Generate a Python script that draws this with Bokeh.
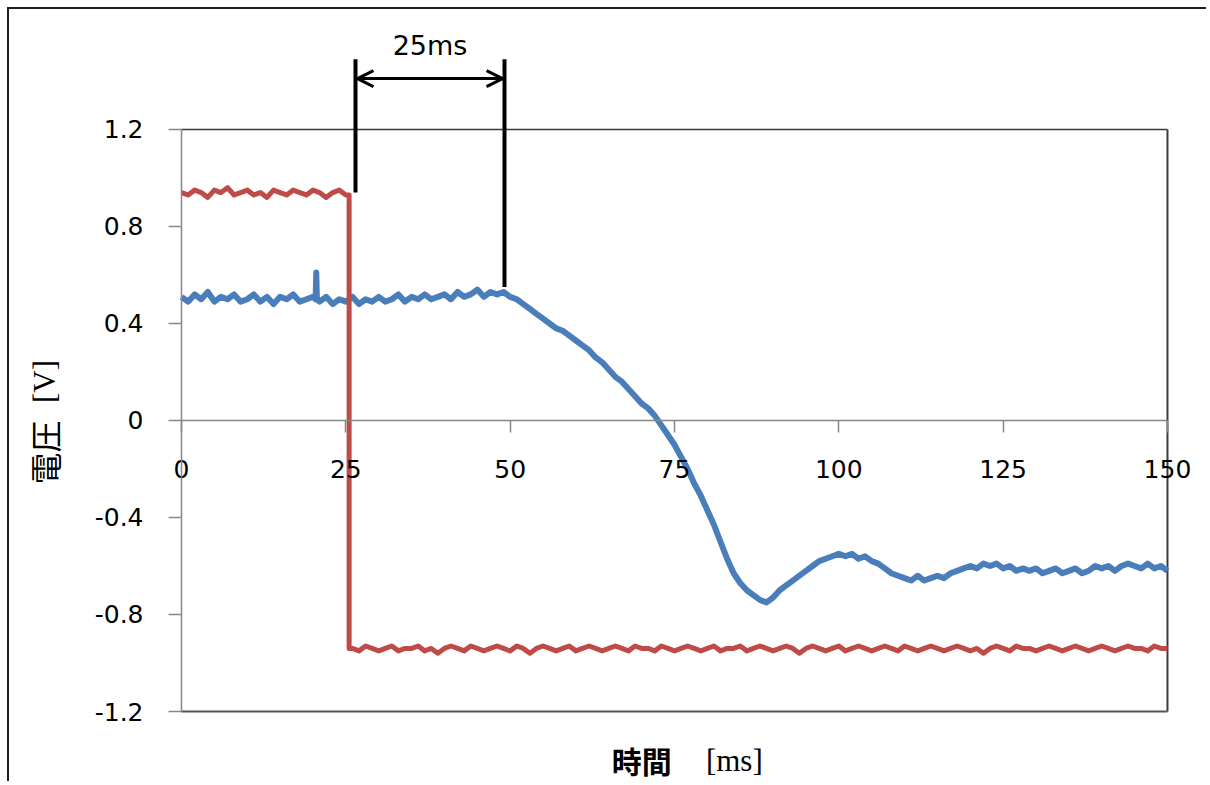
from math import pi
from bokeh.plotting import figure
from bokeh.models import Range1d, LinearAxis, FixedTicker, Label, Arrow, OpenHead
from bokeh.embed import file_html
from bokeh.resources import INLINE

# ---------------- data ----------------
time_blue = list(range(0, 21)) + [20.4, 20.5, 20.6] + list(range(21, 151))
volt_blue = [
    0.51, 0.49, 0.52, 0.50, 0.53, 0.49, 0.51, 0.50, 0.52, 0.49,
    0.50, 0.52, 0.49, 0.51, 0.48, 0.51, 0.50, 0.52, 0.49, 0.50,
    0.51, 0.50, 0.61, 0.50,
    0.49, 0.51, 0.48, 0.50, 0.49, 0.51, 0.48, 0.50, 0.49,
    0.51, 0.49, 0.50, 0.52, 0.49, 0.51, 0.50, 0.52, 0.50, 0.51,
    0.52, 0.50, 0.53, 0.51, 0.52, 0.54, 0.51, 0.53, 0.52, 0.53,
    0.51, 0.50, 0.48, 0.46, 0.44, 0.42, 0.40, 0.38, 0.37, 0.35,
    0.33, 0.31, 0.29, 0.26, 0.24, 0.21, 0.18, 0.16, 0.13, 0.10,
    0.07, 0.05, 0.02, -0.02, -0.06, -0.10, -0.15, -0.20, -0.26, -0.31,
    -0.37, -0.43, -0.50, -0.57, -0.63, -0.67, -0.70, -0.72, -0.74, -0.75,
    -0.73, -0.70, -0.68, -0.66, -0.64, -0.62, -0.60, -0.58, -0.57, -0.56,
    -0.55, -0.56, -0.55, -0.57, -0.56, -0.58, -0.59, -0.61, -0.63, -0.64,
    -0.65, -0.66, -0.64, -0.66, -0.65, -0.64, -0.65, -0.63, -0.62, -0.61,
    -0.60, -0.61, -0.59, -0.60, -0.59, -0.61, -0.60, -0.62, -0.61, -0.62,
    -0.61, -0.63, -0.62, -0.61, -0.63, -0.62, -0.61, -0.63, -0.62, -0.60,
    -0.61, -0.60, -0.62, -0.60, -0.59, -0.60, -0.61, -0.59, -0.61, -0.60, -0.62,
]

time_red = list(range(0, 26)) + [25.5, 25.5] + list(range(26, 151))
volt_red = [
    0.94, 0.93, 0.95, 0.94, 0.92, 0.95, 0.94, 0.96, 0.93, 0.94,
    0.95, 0.93, 0.94, 0.92, 0.95, 0.94, 0.93, 0.95, 0.94, 0.93,
    0.95, 0.94, 0.92, 0.94, 0.95, 0.93,
    0.93, -0.94,
    -0.94, -0.95, -0.93, -0.94, -0.95, -0.94, -0.93, -0.95, -0.94, -0.94,
    -0.93, -0.95, -0.94, -0.96, -0.94, -0.93, -0.94, -0.95, -0.93, -0.94,
    -0.95, -0.94, -0.93, -0.94, -0.95, -0.93, -0.94, -0.96, -0.94, -0.93,
    -0.94, -0.95, -0.94, -0.93, -0.95, -0.94, -0.93, -0.94, -0.95, -0.94,
    -0.93, -0.94, -0.95, -0.93, -0.94, -0.94, -0.95, -0.93, -0.94, -0.95,
    -0.94, -0.93, -0.94, -0.95, -0.94, -0.93, -0.95, -0.94, -0.94, -0.93,
    -0.95, -0.94, -0.93, -0.94, -0.95, -0.94, -0.93, -0.94, -0.96, -0.94,
    -0.93, -0.94, -0.95, -0.94, -0.93, -0.95, -0.94, -0.93, -0.94, -0.95,
    -0.94, -0.93, -0.94, -0.95, -0.93, -0.94, -0.95, -0.94, -0.93, -0.94,
    -0.95, -0.94, -0.93, -0.94, -0.95, -0.94, -0.96, -0.94, -0.93, -0.94,
    -0.95, -0.93, -0.94, -0.94, -0.95, -0.94, -0.93, -0.94, -0.95, -0.94,
    -0.93, -0.94, -0.95, -0.94, -0.93, -0.94, -0.95, -0.94, -0.93, -0.94,
    -0.94, -0.95, -0.93, -0.94, -0.94,
]

x_ticks = [0, 25, 50, 75, 100, 125, 150]
y_ticks = [-1.2, -0.8, -0.4, 0, 0.4, 0.8, 1.2]
y_tick_labels = ["-1.2", "-0.8", "-0.4", "0", "0.4", "0.8", "1.2"]

marker_times = [26.47, 49.14]      # interval markers [ms]
marker_bottoms = [0.94, 0.55]      # where each marker ends [V]
marker_top = 1.49
arrow_level = 1.41
interval_text = "25ms"

x_label_main, x_label_unit = "時間", "[ms]"
y_label_main, y_label_unit = "電圧", "[V]"

BLUE = "#4A7EBB"
RED = "#BE4B48"
AXIS_GRAY = "#868686"

# ---------------- figure ----------------
# the frame spans the whole canvas so nothing is clipped; the visible
# plot box is drawn from the tick extremes
p = figure(
    width=1199, height=774,
    x_range=Range1d(-26.167, 156.24), y_range=Range1d(-1.4969, 1.6948),
    output_backend="svg", toolbar_location=None,
    x_axis_location=None, y_axis_location=None,
    min_border=0, min_border_left=0, min_border_right=0,
    min_border_top=0, min_border_bottom=0,
)
p.outline_line_color = None
p.grid.grid_line_color = None
p.background_fill_color = "white"
p.border_fill_color = "white"
p.styles = {
    "margin-left": "7px", "margin-top": "7px",
    "border-left": "2px solid #1e1e1e", "border-top": "2px solid #1e1e1e",
}

# y axis
yaxis = LinearAxis(
    fixed_location=x_ticks[0],
    ticker=FixedTicker(ticks=y_ticks), bounds=(y_ticks[0], y_ticks[-1]),
    axis_line_color=AXIS_GRAY, axis_line_width=1.5,
    major_tick_line_color=AXIS_GRAY, major_tick_line_width=1.5,
    major_tick_out=13, major_tick_in=0, minor_tick_line_color=None,
    major_label_standoff=25,
    major_label_text_font="DejaVu Sans", major_label_text_font_size="25px",
    major_label_text_color="#000000",
    major_label_overrides=dict(zip(y_ticks, y_tick_labels)),
)
p.add_layout(yaxis, "left")

# x axis through zero, labels set well below
xaxis = LinearAxis(
    fixed_location=0, ticker=FixedTicker(ticks=x_ticks),
    bounds=(x_ticks[0], x_ticks[-1]),
    axis_line_color=AXIS_GRAY, axis_line_width=1.5,
    major_tick_line_color=AXIS_GRAY, major_tick_line_width=1.5,
    major_tick_out=12, major_tick_in=0, minor_tick_line_color=None,
    major_label_standoff=28,
    major_label_text_font="DejaVu Sans", major_label_text_font_size="25px",
    major_label_text_color="#000000",
)
p.add_layout(xaxis, "below")

# plot-area box (top, right, bottom)
p.segment(x0=[x_ticks[0]], y0=[y_ticks[-1]], x1=[x_ticks[-1]], y1=[y_ticks[-1]],
          line_color="#3a3a3a", line_width=1.5)
p.segment(x0=[x_ticks[-1]], y0=[y_ticks[0]], x1=[x_ticks[-1]], y1=[y_ticks[-1]],
          line_color="#3a3a3a", line_width=2)
p.segment(x0=[x_ticks[0]], y0=[y_ticks[0]], x1=[x_ticks[-1]], y1=[y_ticks[0]],
          line_color="#555555", line_width=2)

# series
p.line(time_blue, volt_blue, line_color=BLUE, line_width=6, line_join="round")
p.line(time_red, volt_red, line_color=RED, line_width=5, line_join="round")

# interval markers
p.segment(x0=marker_times, y0=marker_bottoms, x1=marker_times,
          y1=[marker_top] * len(marker_times), line_color="black", line_width=4)
p.add_layout(Arrow(
    start=OpenHead(size=16, line_width=3, line_color="black"),
    end=OpenHead(size=16, line_width=3, line_color="black"),
    x_start=marker_times[0] + 0.3, y_start=arrow_level,
    x_end=marker_times[1] - 0.3, y_end=arrow_level,
    line_width=3, line_color="black",
))
p.add_layout(Label(
    x=sum(marker_times) / 2, y=1.546, text=interval_text,
    text_align="center", text_baseline="middle",
    text_font="DejaVu Sans", text_font_size="27px", text_color="black",
))

# axis titles
p.add_layout(Label(x=70.0, y=-1.40, text=x_label_main, text_align="center",
                   text_baseline="middle", text_font="Noto Sans CJK JP",
                   text_font_style="bold",
                   text_font_size="30px", text_color="black"))
p.add_layout(Label(x=84.1, y=-1.40, text=x_label_unit, text_align="center",
                   text_baseline="middle", text_font="Liberation Serif",
                   text_font_size="31px", text_color="black"))
p.add_layout(Label(x=-20.9, y=-0.132, text=y_label_main, angle=pi / 2,
                   text_align="center", text_baseline="middle",
                   text_font="Noto Sans CJK JP", text_font_size="32px",
                   text_color="black"))
p.add_layout(Label(x=-20.9, y=0.161, text=y_label_unit, angle=pi / 2,
                   text_align="center", text_baseline="middle",
                   text_font="Liberation Serif", text_font_size="31px",
                   text_color="black"))

open("out.html", "w").write(file_html(p, INLINE))
